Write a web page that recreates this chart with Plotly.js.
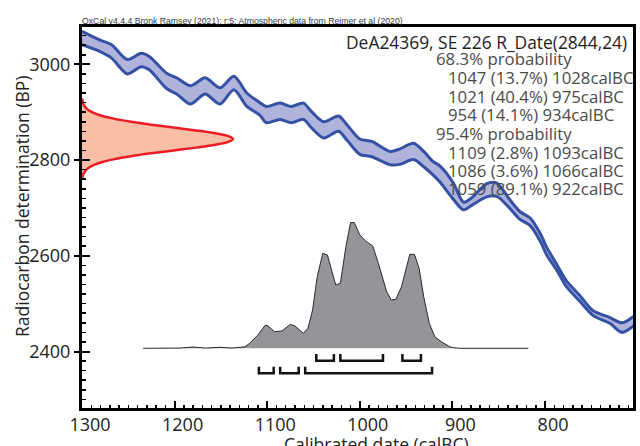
<!DOCTYPE html>
<html><head><meta charset="utf-8">
<script src="https://cdn.plot.ly/plotly-3.0.1.min.js"></script>
<style>html,body{margin:0;padding:0;background:#fff}#chart{width:640px;height:446px}</style>
</head><body><div id="chart"></div>
<script>
// ---- Calibration curve (IntCal20 band) ----
const curveYears = [1300,1281,1268,1251,1236,1227,1209,1197,1183,1167,1151,1136,1122,1108,1101,1086,1074,1061,1052,1039,1023,1014,1000,987,967,957,942,931,921,913,899,888,878,863,852,838,827,816,805,798,787,777,762,748,730,717,704];
const curveBP = [3055,3039,3027,2995,3009,3002,2966,2954,2936,2955,2934,2961,2926,2907,2895,2902,2895,2902,2884,2863,2876,2858,2828,2823,2804,2807,2818,2802,2783,2770,2735,2704,2715,2737,2738,2708,2684,2671,2638,2609,2575,2542,2510,2480,2465,2450,2464];
const curveSigma = [14,12,14,15,14,14,16,17,19,17,17,14,14,13,17,17,17,17,17,17,16,16,16,16,14,16,17,16,14,17,17,8,8,14,14,9,8,8,8,8,6,6,6,5,6,10,10];

// ---- Radiocarbon date R_Date(2844,24) ----
const rDateBP = [2760,2766,2772,2778,2784,2790,2796,2802,2808,2814,2820,2826,2832,2838,2844,2850,2856,2862,2868,2874,2880,2886,2892,2898,2904,2910,2916,2922,2928];
const rDateDensity = [0.002,0.005,0.011,0.023,0.044,0.080,0.135,0.216,0.325,0.458,0.607,0.755,0.883,0.969,1.000,0.969,0.883,0.755,0.607,0.458,0.325,0.216,0.135,0.080,0.044,0.023,0.011,0.005,0.002];

// ---- Calibrated (posterior) distribution ----
const postYears = [1234,1194,1180,1167,1151,1138,1124,1119,1110,1102,1099,1092,1084,1075,1070,1061,1056,1051,1046,1040,1035,1026,1021,1015,1010,1006,1000,994,986,980,971,966,961,955,946,941,936,931,925,919,912,903,899,892,818];
const postProb = [0,0.002,0.010,0.002,0.008,0.002,0.012,0.040,0.106,0.185,0.177,0.132,0.138,0.191,0.177,0.119,0.159,0.304,0.569,0.755,0.742,0.503,0.517,0.808,1.000,1.000,0.901,0.855,0.813,0.676,0.450,0.384,0.390,0.490,0.747,0.747,0.636,0.410,0.199,0.092,0.052,0.013,0.005,0,0];

// ---- Ranges ----
const range68Start = [1047,1021,954];
const range68End   = [1028,975,934];
const range68Pct   = ['13.7','40.4','14.1'];
const range95Start = [1109,1086,1059];
const range95End   = [1093,1066,922];
const range95Pct   = ['2.8','3.6','89.1'];

const xTicks = [1300,1200,1100,1000,900,800];
const yTicks = [2400,2600,2800,3000];

const headerText = 'OxCal v4.4.4 Bronk Ramsey (2021); r:5; Atmospheric data from Reimer et al (2020)';
const titleText = 'DeA24369, SE 226 R_Date(2844,24)';
const xTitle = 'Calibrated date (calBC)';
const yTitle = 'Radiocarbon determination (BP)';

// ---- geometry helpers ----
const M = {l:82, r:7, t:27, b:38};
const PW = 640 - M.l - M.r, PH = 446 - M.t - M.b;
const xp = px => (px - M.l) / PW;
const yp = py => (446 - M.b - py) / PH;

const upper = curveBP.map((v,i)=>v+curveSigma[i]);
const lower = curveBP.map((v,i)=>v-curveSigma[i]);

function brackets(starts, ends, top, bot){
  const x=[], y=[];
  starts.forEach((s,i)=>{ x.push(s,s,ends[i],ends[i],null); y.push(top,bot,bot,top,null); });
  return {x, y};
}
const b68 = brackets(range68Start, range68End, -0.045, -0.099);
const b95 = brackets(range95Start, range95End, -0.146, -0.199);

const blue = '#3451a5', band = '#b0b4dc';
const traces = [
  {x: postYears, y: postProb, xaxis:'x', yaxis:'y2', type:'scatter', mode:'lines',
   fill:'tozeroy', fillcolor:'#939598', line:{color:'#2a2a2a', width:1}, hoverinfo:'skip'},
  {x: b68.x, y: b68.y, xaxis:'x', yaxis:'y2', type:'scatter', mode:'lines',
   line:{color:'#111', width:2.5}, connectgaps:false, hoverinfo:'skip'},
  {x: b95.x, y: b95.y, xaxis:'x', yaxis:'y2', type:'scatter', mode:'lines',
   line:{color:'#111', width:2.5}, connectgaps:false, hoverinfo:'skip'},
  {x: rDateDensity, y: rDateBP, xaxis:'x2', yaxis:'y', type:'scatter', mode:'lines',
   fill:'tozerox', fillcolor:'#f9bea6', line:{color:'#ec1c24', width:2.5, shape:'spline'}, hoverinfo:'skip'},
  {x: curveYears, y: lower, xaxis:'x', yaxis:'y', type:'scatter', mode:'lines',
   line:{color:blue, width:3, shape:'spline', smoothing:0.8}, hoverinfo:'skip'},
  {x: curveYears, y: upper, xaxis:'x', yaxis:'y', type:'scatter', mode:'lines',
   fill:'tonexty', fillcolor:band, line:{color:blue, width:3, shape:'spline', smoothing:0.8}, hoverinfo:'skip'}
];

const FONT = 'Open Sans, Noto Sans, sans-serif';
const lines = [];
lines.push({t:'68.3% probability', px:434});
range68Start.forEach((s,i)=>lines.push({t:`${s} (${range68Pct[i]}%) ${range68End[i]}calBC`, px:445.5}));
lines.push({t:'95.4% probability', px:434});
range95Start.forEach((s,i)=>lines.push({t:`${s} (${range95Pct[i]}%) ${range95End[i]}calBC`, px:445.5}));
const lineY = [58.3,77.3,96,114.8,133.3,152,170.5,188.8];

const annotations = [
  {text: headerText, xref:'paper', yref:'paper', x: xp(80), y: yp(21), xanchor:'left', yanchor:'middle',
   showarrow:false, font:{family:'Liberation Sans, Arial, sans-serif', size:8.7, color:'#3a3a3a'}},
  {text: titleText, xref:'paper', yref:'paper', x: xp(629), y: yp(41.7), xanchor:'right', yanchor:'middle',
   showarrow:false, font:{family:FONT, size:17.4, color:'#1e1e1e'}},
  {text: yTitle, xref:'paper', yref:'paper', x: xp(22), y: yp(207), xanchor:'center', yanchor:'middle',
   textangle:-90, showarrow:false, font:{family:FONT, size:17.5, color:'#222'}},
  {text: xTitle, xref:'paper', yref:'paper', x: xp(376), y: yp(444), xanchor:'center', yanchor:'middle',
   showarrow:false, font:{family:FONT, size:17.5, color:'#222'}}
];
lines.forEach((l,i)=>annotations.push({text:l.t, xref:'paper', yref:'paper', x: xp(l.px), y: yp(lineY[i]),
  xanchor:'left', yanchor:'middle', showarrow:false, font:{family:FONT, size:16.8, color:'#4a4a4a'}}));

const layout = {
  width:640, height:446, margin:M, paper_bgcolor:'#fff', plot_bgcolor:'#fff', showlegend:false,
  font:{family:FONT, color:'#222'},
  xaxis:{range:[1300,705], tickvals:xTicks, ticktext:xTicks.map(String), ticks:'inside', ticklen:7, tickwidth:2,
    tickcolor:'#000', minor:{dtick:10, ticks:'inside', ticklen:3, tickwidth:1.5, tickcolor:'#000'},
    showline:true, linewidth:3, linecolor:'#000', mirror:true, showgrid:false, zeroline:false,
    ticklabelshift:-8, ticklabelstandoff:-2,
    tickfont:{family:FONT, size:18, color:'#222'}},
  yaxis:{range:[2282,3078], tickvals:yTicks, ticktext:yTicks.map(String), ticks:'outside', ticklen:5, tickwidth:2,
    tickcolor:'#000', minor:{dtick:20, ticks:'inside', ticklen:4, tickwidth:1.5, tickcolor:'#000'},
    showline:true, linewidth:3, linecolor:'#000', mirror:true, showgrid:false, zeroline:false,
    tickfont:{family:FONT, size:18, color:'#222'}},
  yaxis3:{overlaying:'y', range:[2282,3078], tickvals:yTicks, ticks:'inside', ticklen:8, tickwidth:2, tickcolor:'#000',
    showticklabels:false, showline:false, showgrid:false, zeroline:false},
  yaxis2:{overlaying:'y', range:[-0.4745,2.554], visible:false},
  xaxis2:{overlaying:'x', range:[0,3.649], visible:false},
  annotations
};
// invisible anchor trace so yaxis3 is drawn
traces.push({x:[1300], y:[3000], xaxis:'x', yaxis:'y3', mode:'markers', marker:{opacity:0}, hoverinfo:'skip'});
Plotly.newPlot('chart', traces, layout, {staticPlot:true, displayModeBar:false});
</script></body></html>
